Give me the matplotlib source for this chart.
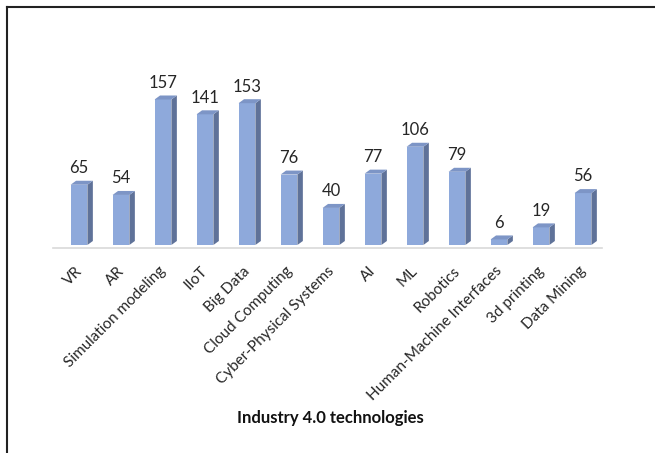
import numpy as np
import matplotlib
matplotlib.use("Agg")
import matplotlib.pyplot as plt
from matplotlib.patches import Polygon
from matplotlib.lines import Line2D

technologies = ["VR", "AR", "Simulation modeling", "IIoT", "Big Data", "Cloud Computing",
                "Cyber-Physical Systems", "AI", "ML", "Robotics",
                "Human-Machine Interfaces", "3d printing", "Data Mining"]
counts = [65, 54, 157, 141, 153, 76, 40, 77, 106, 79, 6, 19, 56]

front_col = "#8EA9DB"
side_col = "#5F7299"
top_col = "#7D95C6"

plt.rcParams['font.family'] = ['Lato', 'DejaVu Sans']

fig = plt.figure(figsize=(6.55, 4.53), dpi=100)
ax = fig.add_axes([58 / 655, 0.451, 546 / 655, 0.356])

x = np.arange(len(technologies))
w = 0.40
dx = 0.13
dy = 4.3

ax.bar(x, counts, width=w, color=front_col, zorder=3)
for xi, v in zip(x, counts):
    r = xi + w / 2
    l = xi - w / 2
    side = Polygon([(r, 0), (r + dx, dy), (r + dx, v + dy), (r, v)],
                   closed=True, facecolor=side_col, edgecolor="none", zorder=3)
    top = Polygon([(l, v), (l + dx, v + dy), (r + dx, v + dy), (r, v)],
                  closed=True, facecolor=top_col, edgecolor="none", zorder=3)
    ax.add_patch(side)
    ax.add_patch(top)
    ax.text(xi, v + dy + 5, str(v), ha="center", va="bottom",
            fontsize=12, color="#262626")

ax.set_xlim(-0.5, 12.5)
ax.set_ylim(-4, 170)
ax.plot([-0.62, 12.45], [-3, -3], color="#D9D9D9", lw=1.2, zorder=1, clip_on=False)

ax.set_xticks(x - 0.1)
ax.set_xticklabels(technologies, rotation=45, ha="right", rotation_mode="anchor",
                   fontsize=11, color="#262626")
ax.tick_params(axis="x", length=0, pad=11)
ax.set_yticks([])
for s in ax.spines.values():
    s.set_visible(False)

fig.text(0.505, 0.077, "Industry 4.0 technologies", ha="center", va="center",
         fontsize=12, fontweight="bold", color="#111111")

# partial frame (top and left edges only)
fig.add_artist(Line2D([6.5 / 655, 1], [1 - 6.5 / 453, 1 - 6.5 / 453],
                      transform=fig.transFigure, color="#222222", lw=1.5))
fig.add_artist(Line2D([6.5 / 655, 6.5 / 655], [0, 1 - 6.5 / 453],
                      transform=fig.transFigure, color="#222222", lw=1.5))

fig.savefig("out.png", dpi=100)
